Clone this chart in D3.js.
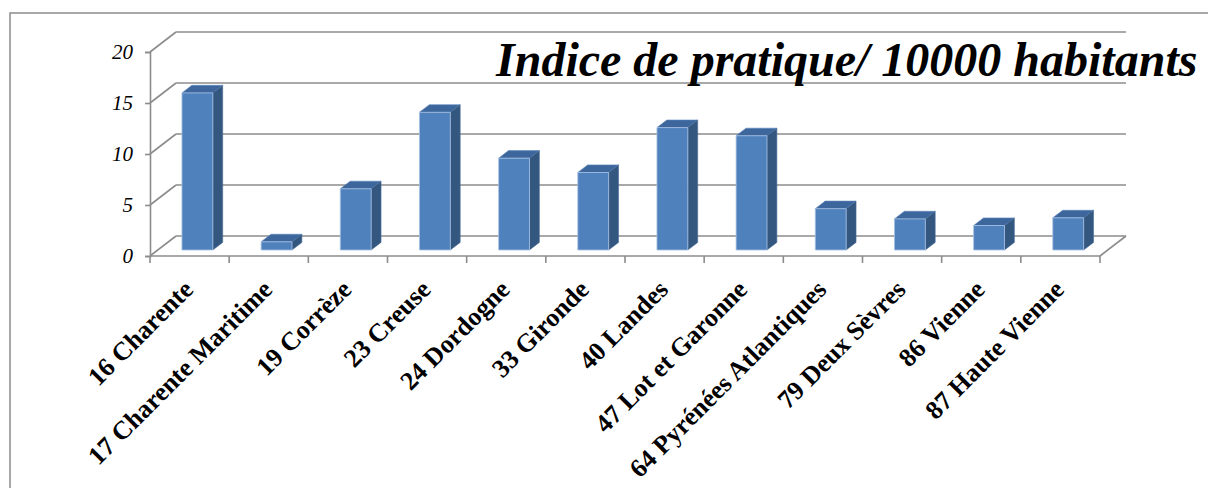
<!DOCTYPE html>
<meta charset="utf-8">
<style>
body { margin:0; background:#fff; }
svg { display:block; }
.grid line, .wall line { stroke:#8c8c8c; stroke-width:1.6px; }
.ylab { font-family:"Liberation Serif", "Times New Roman", serif; font-style:italic; font-size:21px; }
.xlab { font-family:"Liberation Serif", "Times New Roman", serif; font-weight:bold; font-size:26px; }
.title { font-family:"Liberation Serif", "Times New Roman", serif; font-weight:bold; font-style:italic; font-size:48px; }
</style>
<svg width="1208" height="488"></svg>
<script src="https://cdn.jsdelivr.net/npm/d3@7"></script>
<script>

// données
var departements = ["16 Charente", "17 Charente Maritime", "19 Corrèze", "23 Creuse", "24 Dordogne",
  "33 Gironde", "40 Landes", "47 Lot et Garonne", "64 Pyrénées Atlantiques", "79 Deux Sèvres",
  "86 Vienne", "87 Haute Vienne"];
var indice = [15.4, 0.8, 6.0, 13.5, 9.0, 7.6, 12.0, 11.2, 4.05, 3.05, 2.4, 3.15];
var graduations = [0, 5, 10, 15, 20];
var titre = "Indice de pratique/ 10000 habitants";

var svg = d3.select("svg");

// cadre extérieur
svg.append("rect")
    .attr("x", 10).attr("y", 13)
    .attr("width", 1300).attr("height", 600)
    .attr("fill", "none").attr("stroke", "#8c8c8c").attr("stroke-width", 1.5);

var x = d3.scaleBand().domain(departements).range([150, 1100]);
var y = d3.scaleLinear().domain([0, 20]).range([256, 52]);

// profondeur de la 3D
var dx = 26, dy = -20;
function p(px, py, f) { return [px + dx * f, py + dy * f]; }

// mur de gauche + grille du fond
var grid = svg.append("g").attr("class", "grid");
grid.selectAll(".back").data(graduations).enter().append("line")
    .attr("x1", x.range()[0] + dx).attr("x2", x.range()[1] + dx)
    .attr("y1", function(d) { return y(d) + dy; })
    .attr("y2", function(d) { return y(d) + dy; });
grid.selectAll(".side").data(graduations).enter().append("line")
    .attr("x1", 150).attr("x2", 150 + dx)
    .attr("y1", function(d) { return y(d); })
    .attr("y2", function(d) { return y(d) + dy; });
// plancher à droite
grid.append("line")
    .attr("x1", 1100).attr("y1", y(0)).attr("x2", 1100 + dx).attr("y2", y(0) + dy);

// axe vertical
var yAxis = svg.append("g").attr("transform", "translate(150,0)")
    .call(d3.axisLeft(y).tickValues(graduations).tickSize(5).tickPadding(12));
yAxis.attr("font-size", null).attr("font-family", null);
yAxis.select(".domain").attr("stroke", "#8c8c8c").attr("stroke-width", 1.6);
yAxis.selectAll(".tick line").attr("stroke", "#8c8c8c").attr("stroke-width", 1.6);
yAxis.selectAll(".tick text").attr("class", "ylab").attr("fill", "#000");

// axe horizontal (graduations entre catégories)
var bornes = d3.range(departements.length + 1).map(function(i) { return 150 + i * x.step(); });
var xAxis = svg.append("g").attr("class", "wall");
xAxis.append("line").attr("x1", 150).attr("x2", 1100).attr("y1", y(0)).attr("y2", y(0));
xAxis.selectAll(".tk").data(bornes).enter().append("line")
    .attr("x1", function(d) { return d; }).attr("x2", function(d) { return d; })
    .attr("y1", y(0)).attr("y2", y(0) + 7);

// barres 3D
var f0 = 0.3, f1 = 0.68, bw = x.bandwidth() * 0.39;
var bars = svg.append("g").selectAll("g").data(indice).enter().append("g");
function face(pts) { return "M" + pts.map(function(q) { return q.join(","); }).join("L") + "Z"; }
bars.each(function(v, i) {
  var g = d3.select(this);
  var cx = x(departements[i]) + x.bandwidth() / 2;
  var l = cx - bw / 2, r = cx + bw / 2;
  var b = y(0), t = y(v);
  // dessus
  g.append("path").attr("fill", "#3d679c").attr("stroke", "#5a86bf").attr("stroke-width", 0.6)
    .attr("d", face([p(l, t, f0), p(r, t, f0), p(r, t, f1), p(l, t, f1)]));
  // côté
  g.append("path").attr("fill", "#34577f").attr("stroke", "#4a6f9c").attr("stroke-width", 0.6)
    .attr("d", face([p(r, t, f0), p(r, b, f0), p(r, b, f1), p(r, t, f1)]));
  // face avant
  g.append("path").attr("fill", "#4f81bd").attr("stroke", "#a9c3e3").attr("stroke-width", 0.8)
    .attr("d", face([p(l, t, f0), p(r, t, f0), p(r, b, f0), p(l, b, f0)]));
});

// étiquettes des catégories
svg.append("g").selectAll("text").data(departements).enter().append("text")
    .attr("class", "xlab")
    .attr("text-anchor", "end")
    .attr("transform", function(d) {
      return "translate(" + (x(d) + x.bandwidth() / 2 + 5) + ",291) rotate(-45)";
    })
    .text(function(d) { return d; });

// titre
svg.append("text").attr("class", "title")
    .attr("x", 496).attr("y", 76)
    .text(titre);

</script>
